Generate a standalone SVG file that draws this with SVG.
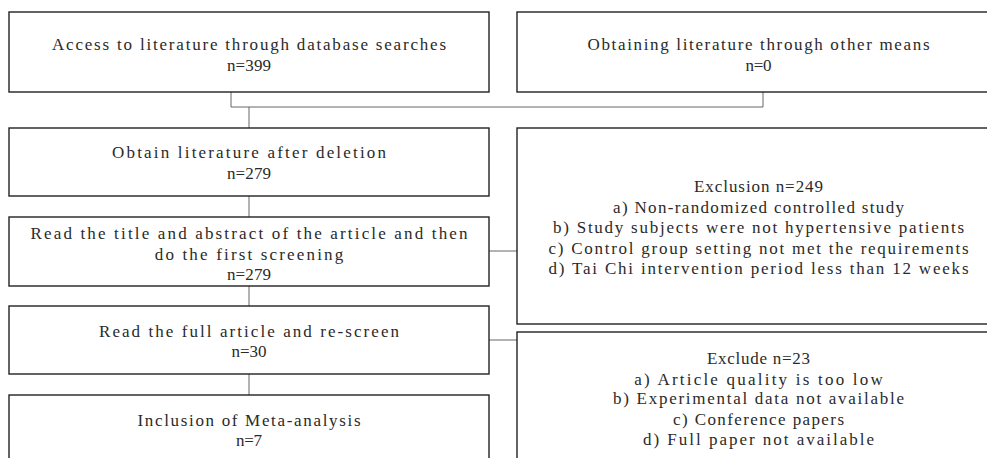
<svg xmlns="http://www.w3.org/2000/svg" width="987" height="458" viewBox="0 0 987 458">
<style>
.box{fill:#fff;stroke:#222;stroke-width:1.4}
.conn{fill:none;stroke:#666;stroke-width:1}
text{font-family:"Liberation Serif","DejaVu Serif",serif;font-size:17px;fill:#2a2a2a;text-anchor:middle}
</style>
<rect width="987" height="458" fill="#fff"/>
<g id="connectors">
<path class="conn" d="M231,92 V107 H763 V92"/>
<path class="conn" d="M249,107 V128"/>
<path class="conn" d="M249,196 V217"/>
<path class="conn" d="M249,286 V306"/>
<path class="conn" d="M249,374 V395"/>
<path class="conn" d="M489,251 H517"/>
<path class="conn" d="M489,340 H517"/>
</g>
<g id="n1">
<rect class="box" x="9" y="12" width="480" height="80"/>
<text x="249" y="50" textLength="394">Access to literature through database searches</text>
<text x="249" y="71" textLength="44">n=399</text>
</g>
<g id="n2">
<rect class="box" x="517" y="12" width="484" height="80"/>
<text x="758.5" y="50" textLength="342">Obtaining literature through other means</text>
<text x="758.5" y="71" textLength="26">n=0</text>
</g>
<g id="n3">
<rect class="box" x="9" y="128" width="480" height="68"/>
<text x="249" y="158" textLength="274">Obtain literature after deletion</text>
<text x="249" y="179" textLength="44">n=279</text>
</g>
<g id="n4">
<rect class="box" x="9" y="217" width="480" height="69"/>
<text x="249" y="239" textLength="437">Read the title and abstract of the article and then</text>
<text x="249" y="259.5" textLength="188.5">do the first screening</text>
<text x="249" y="280" textLength="44">n=279</text>
</g>
<g id="n5">
<rect class="box" x="9" y="306" width="480" height="68"/>
<text x="249" y="337" textLength="300">Read the full article and re-screen</text>
<text x="249" y="357" textLength="35">n=30</text>
</g>
<g id="n6">
<rect class="box" x="9" y="395" width="480" height="80"/>
<text x="249" y="426" textLength="223">Inclusion of Meta-analysis</text>
<text x="249" y="446" textLength="26">n=7</text>
</g>
<g id="n7">
<rect class="box" x="517" y="128" width="484" height="196"/>
<text x="758.5" y="192" textLength="129">Exclusion n=249</text>
<text x="758.5" y="212.5" textLength="291">a) Non-randomized controlled study</text>
<text x="758.5" y="233" textLength="411">b) Study subjects were not hypertensive patients</text>
<text x="758.5" y="253.5" textLength="420">c) Control group setting not met the requirements</text>
<text x="758.5" y="273.5" textLength="420">d) Tai Chi intervention period less than 12 weeks</text>
</g>
<g id="n8">
<rect class="box" x="517" y="332" width="484" height="140"/>
<text x="758.5" y="364" textLength="103">Exclude n=23</text>
<text x="758.5" y="384.5" textLength="248.5">a) Article quality is too low</text>
<text x="758.5" y="404" textLength="291">b) Experimental data not available</text>
<text x="758.5" y="424.5" textLength="171">c) Conference papers</text>
<text x="758.5" y="445" textLength="231">d) Full paper not available</text>
</g>
</svg>
